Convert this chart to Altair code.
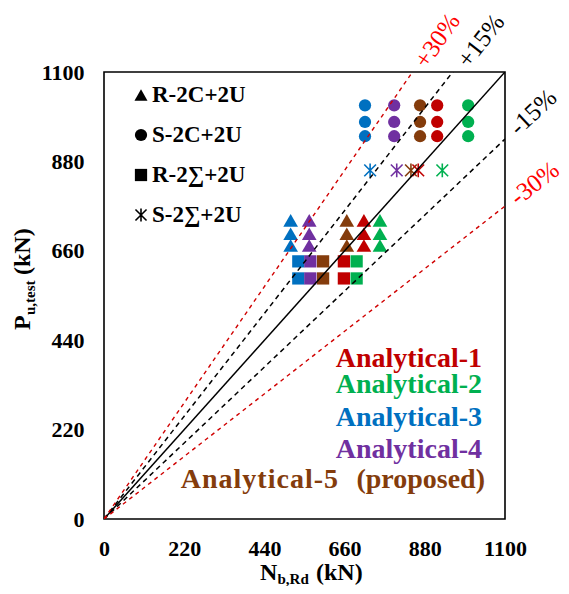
import altair as alt
import pandas as pd

FONT = "Liberation Serif"

# ---- data ----
methods = ["Analytical-1", "Analytical-2", "Analytical-3", "Analytical-4", "Analytical-5"]
colors = ["#C00000", "#00B050", "#0070C0", "#7030A0", "#843C0C"]
# order of the columns (left to right) inside every cluster
col_methods = ["Analytical-3", "Analytical-4", "Analytical-5", "Analytical-1", "Analytical-2"]

tri_x = [512, 563, 666, 713, 757]      # R-2C+2U
tri_y = [735, 702, 673]
cir_x = [716, 796, 867, 914, 999]      # S-2C+2U
cir_y = [1018, 977, 942]
sq_x = [533, 566, 601, 658, 693]       # R-2Σ+2U
sq_y = [634, 592]
ast_x = [730, 803, 842, 862, 928]      # S-2Σ+2U
ast_y = [858]

ticks = [0, 220, 440, 660, 880, 1100]
ratios = [1.0, 1.15, 0.85, 1.3, 0.7]

pct_text = ["+30%", "+15%", "-15%", "-30%"]
pct_x = [914, 1034, 1177, 1181]
pct_y = [1177, 1177, 1001, 826]
pct_angle = [305, 308, 317, 322]
pct_color = ["#FF0000", "black", "black", "#FF0000"]

leg_labels = ["R-2C+2U", "S-2C+2U", "R-2\u2211+2U", "S-2\u2211+2U"]
ASTERISK = "M0,-1L0,1M-0.85,-0.85L0.85,0.85M-0.85,0.85L0.85,-0.85"
leg_shapes = ["triangle-up", "circle", "square", ASTERISK]

ana_labels = ["Analytical-1", "Analytical-2", "Analytical-3", "Analytical-4"]
ana5_word = "Analytical-5"
ana5_note = "(proposed)"


def grid(xs, ys):
    rows = []
    for yv in ys:
        for m, xv in zip(col_methods, xs):
            rows.append({"x": xv, "y": yv, "method": m})
    return pd.DataFrame(rows)


tri_df = grid(tri_x, tri_y)
cir_df = grid(cir_x, cir_y)
sq_df = grid(sq_x, sq_y)
ast_df = grid(ast_x, ast_y)

line_df = pd.DataFrame([{"r": r, "x": xv, "y": r * xv} for r in ratios for xv in (0, 1100)])
pct_df = pd.DataFrame({"t": pct_text, "x": pct_x, "y": pct_y, "a": pct_angle, "c": pct_color})
one = pd.DataFrame({"d": [0]})

# ---- encodings ----
xscale = alt.Scale(domain=[0, 1100], nice=False, zero=False)
yscale = alt.Scale(domain=[0, 1100], nice=False, zero=False)
axis_common = dict(title=None, grid=False, ticks=False, domain=False, labelFont=FONT,
                   labelFontSize=22, labelFontWeight="bold", labelColor="black",
                   labelFlush=False, labelOverlap=False, values=ticks, format="d")
X = alt.X("x:Q", scale=xscale, axis=alt.Axis(labelPadding=19, **axis_common))
Y = alt.Y("y:Q", scale=yscale, axis=alt.Axis(labelPadding=20, **axis_common))
C = alt.Color("method:N", scale=alt.Scale(domain=methods, range=colors), legend=None)

layers = []
layers.append(alt.Chart(sq_df).mark_point(shape="square", filled=True, size=150, opacity=1)
              .encode(x=X, y=Y, color=C))
layers.append(alt.Chart(tri_df).mark_point(shape="triangle-up", filled=True, size=215, opacity=1)
              .encode(x=X, y=Y, color=C))
layers.append(alt.Chart(cir_df).mark_point(shape="circle", filled=True, size=150, opacity=1)
              .encode(x=X, y=Y, color=C))
layers.append(alt.Chart(ast_df).mark_point(shape=ASTERISK, filled=False, size=190,
                                           strokeWidth=1.6, opacity=1)
              .encode(x=X, y=Y, color=C))

# reference lines
layers.append(alt.Chart(line_df).transform_filter("datum.r == 1")
              .mark_line(color="black", strokeWidth=1.5, clip=True)
              .encode(x=X, y=Y, detail="r:N"))
layers.append(alt.Chart(line_df).transform_filter("datum.r == 1.15 || datum.r == 0.85")
              .mark_line(color="black", strokeWidth=1.5, strokeDash=[5, 4], clip=True)
              .encode(x=X, y=Y, detail="r:N"))
layers.append(alt.Chart(line_df).transform_filter("datum.r == 1.3 || datum.r == 0.7")
              .mark_line(color="#D00000", strokeWidth=1.4, strokeDash=[4, 4], clip=True)
              .encode(x=X, y=Y, detail="r:N"))

# percent labels
layers.append(alt.Chart(pct_df).mark_text(font=FONT, fontSize=25, align="center",
                                          baseline="middle")
              .encode(x=X, y=Y, text="t:N", angle=alt.Angle("a:Q", scale=None),
                      color=alt.Color("c:N", scale=None)))

# marker legend (top-left)
for i, (lab, shp) in enumerate(zip(leg_labels, leg_shapes)):
    yy = 23 + 40 * i
    if shp == ASTERISK:
        mk = alt.Chart(one).mark_point(shape=shp, filled=False, size=170, strokeWidth=1.6,
                                       color="black", opacity=1)
    else:
        mk = alt.Chart(one).mark_point(shape=shp, filled=True, size=150 if shp != "triangle-up" else 170,
                                       color="black", opacity=1)
    layers.append(mk.encode(x=alt.value(37), y=alt.value(yy)))
    layers.append(alt.Chart(one).mark_text(text=lab, font=FONT, fontSize=23, fontWeight="bold",
                                           align="left", baseline="middle", color="black")
                  .encode(x=alt.value(48), y=alt.value(yy)))

# method legend (bottom-right)
ana_base = [295, 321, 354, 386]
for lab, col, yb in zip(ana_labels, colors, ana_base):
    layers.append(alt.Chart(one).mark_text(text=lab, font=FONT, fontSize=28, fontWeight="bold",
                                           align="right", baseline="alphabetic", color=col)
                  .encode(x=alt.value(378), y=alt.value(yb)))

# last entry: slightly letter-spaced "Analytical-5" followed by "(proposed)"
BOLD_EM = {"A": .722, "n": .556, "a": .5, "l": .278, "y": .5, "t": .333, "i": .278,
           "c": .444, "-": .333, "5": .5}
SPACING = 1.0
word_w = sum(BOLD_EM[c] * 28 for c in ana5_word) + SPACING * (len(ana5_word) - 1)
cx = 234.0 - word_w
for ch in ana5_word:
    layers.append(alt.Chart(one).mark_text(text=ch, font=FONT, fontSize=28, fontWeight="bold",
                                           align="left", baseline="alphabetic", color=colors[4])
                  .encode(x=alt.value(cx), y=alt.value(416)))
    cx += BOLD_EM[ch] * 28 + SPACING
layers.append(alt.Chart(one).mark_text(text=ana5_note, font=FONT, fontSize=28, fontWeight="bold",
                                       align="right", baseline="alphabetic", color=colors[4])
              .encode(x=alt.value(381), y=alt.value(416)))

# axis titles with subscripts
def t(txt, x, y, size, angle=0):
    kw = dict(text=txt, font=FONT, fontSize=size, fontWeight="bold", align="left",
              baseline="alphabetic", color="black")
    if angle:
        kw["angle"] = angle
    return alt.Chart(one).mark_text(**kw).encode(x=alt.value(x), y=alt.value(y))

layers += [
    t("N", 156, 508, 24), t("b,Rd", 173.5, 512, 15), t("(kN)", 212, 508, 24),
    t("P", -74, 258, 24, 270), t("u,test", -69, 243, 15, 270), t("(kN)", -74, 203, 24, 270),
]

chart = (alt.layer(*layers)
         .properties(width=401, height=447,
                     autosize=alt.AutoSizeParams(type="none"),
                     padding={"left": 96, "top": 64, "right": 56, "bottom": 67},
                     background="white")
         .configure_view(stroke="black", strokeWidth=1.6))

chart.save("out.html", embed_options={"renderer": "svg", "actions": False})
